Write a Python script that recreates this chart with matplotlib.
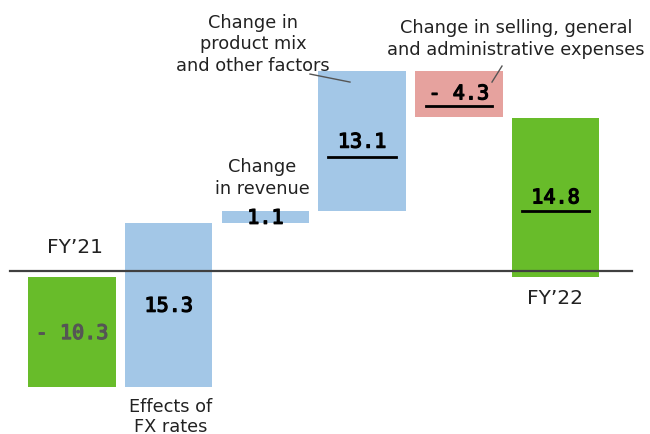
import matplotlib
matplotlib.use("Agg")
import matplotlib.pyplot as plt
import matplotlib.patheffects as pe
import numpy as np

plt.rcParams['font.family'] = ['DejaVu Sans']

categories = ["FY\u201921", "Effects of\nFX rates", "Change\nin revenue",
              "Change in\nproduct mix\nand other factors",
              "Change in selling, general\nand administrative expenses", "FY\u201922"]
values = [-10.3, 15.3, 1.1, 13.1, -4.3, 14.8]
value_labels = ["- 10.3", "15.3", "1.1", "13.1", "- 4.3", "14.8"]
kinds = ["total", "delta", "delta", "delta", "delta", "total"]

GREEN = "#68BC2A"
BLUE = "#A3C7E7"
PINK = "#E6A29E"

# waterfall bottoms
bottoms, heights, colors = [], [], []
run = 0.0
for v, k in zip(values, kinds):
    if k == "total":
        bottoms.append(0.0)
        heights.append(v)
        colors.append(GREEN)
        run = v
    else:
        bottoms.append(run)
        heights.append(v)
        colors.append(BLUE if v >= 0 else PINK)
        run += v

fig = plt.figure(figsize=(6.5, 4.35), dpi=100)
ax = fig.add_axes([0, 0, 1, 1])
ax.set_xlim(-0.745, 5.977)
ax.set_ylim(-14.67, 25.9)
ax.axis('off')

x = np.arange(len(values))
ax.bar(x, heights, bottom=bottoms, width=0.905, color=colors, zorder=2,
       edgecolor='none')

# baseline
ax.plot([-0.64, 5.79], [0.5, 0.5], color='#404040', lw=1.6, zorder=3)

NUMFONT = ['DejaVu Sans Mono']
FS_NUM = 14.5
def num(xx, yy, s, color='black'):
    ax.text(xx, yy, s, ha='center', va='center', fontsize=FS_NUM, family=NUMFONT,
            color=color, zorder=4,
            path_effects=[pe.withStroke(linewidth=0.9, foreground=color)])

num(x[0], -5.3, value_labels[0], color='#555555')
num(x[1], -2.75, value_labels[1])
num(x[2], 5.45, value_labels[2])
num(x[3], 12.55, value_labels[3])
ax.plot([x[3] - 0.35, x[3] + 0.35], [11.15, 11.15], color='black', lw=2, zorder=4)
num(x[4], 17.05, value_labels[4])
ax.plot([x[4] - 0.34, x[4] + 0.34], [15.9, 15.9], color='black', lw=2, zorder=4)
num(x[5], 7.35, value_labels[5])
ax.plot([x[5] - 0.35, x[5] + 0.35], [6.1, 6.1], color='black', lw=2, zorder=4)

FS = 12.8
FS_BIG = 14.5
TC = '#222222'
def px2x(px):
    return -0.745 + px / 96.7
def py2y(py):
    return (277.6 - py) / 10.72

ax.text(px2x(75), py2y(247), categories[0], ha='center', va='center', fontsize=FS_BIG, color=TC)
ax.text(px2x(171), py2y(417), categories[1], ha='center', va='center', fontsize=FS,
        color=TC, linespacing=1.15)
ax.text(px2x(262), py2y(178), categories[2], ha='center', va='center', fontsize=FS,
        color=TC, linespacing=1.25)
ax.text(px2x(253), py2y(44), categories[3], ha='center', va='center', fontsize=FS,
        color=TC, linespacing=1.25)
ax.text(px2x(516), py2y(39), categories[4], ha='center', va='center', fontsize=FS,
        color=TC, linespacing=1.3)
ax.text(px2x(555), py2y(298), categories[5], ha='center', va='center', fontsize=FS_BIG, color=TC)

# leader lines
ax.plot([px2x(310), px2x(350)], [py2y(75), py2y(83)], color='#555555', lw=1, zorder=4)
ax.plot([px2x(502), px2x(492)], [py2y(67), py2y(83)], color='#555555', lw=1, zorder=4)

fig.savefig("out.png", dpi=100)
